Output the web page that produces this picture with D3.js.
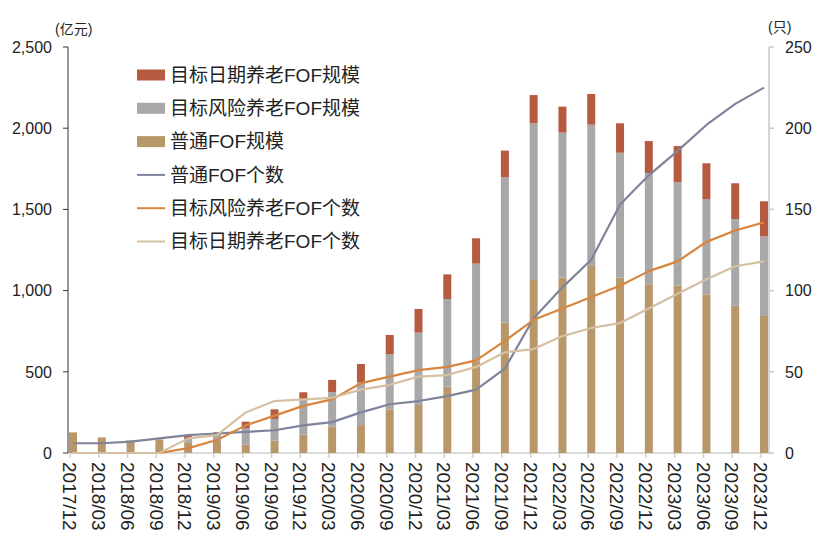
<!DOCTYPE html>
<html><head><meta charset="utf-8">
<script src="https://cdn.jsdelivr.net/npm/d3@7"></script>
<style>body{margin:0;background:#fff}svg{display:block}text{font-family:"Liberation Sans","Noto Sans CJK SC",sans-serif;fill:#222}</style>
</head><body><svg id="c" width="825" height="553"></svg>
<script>
const categories = ["2017/12","2018/03","2018/06","2018/09","2018/12","2019/03","2019/06","2019/09","2019/12","2020/03","2020/06","2020/09","2020/12","2021/03","2021/06","2021/09","2021/12","2022/03","2022/06","2022/09","2022/12","2023/03","2023/06","2023/09","2023/12"];
const ordinaryScale = [127,96,78,82,66,74,51,76,115,162,172,269,296,408,564,802,1065,1080,1156,1080,1039,1030,977,907,844];
const riskScale = [0,0,0,2,20,39,103,134,212,212,263,339,445,540,602,896,965,893,866,769,685,639,587,534,490];
const dateScale = [0,0,0,0,22,14,39,59,47,76,113,119,146,152,156,164,174,160,189,181,197,221,220,220,216];
const ordinaryCount = [6,6,7,9,11,12,13,14,17,19,25,30,32,35,39,52,83,102,119,153,171,186,202,215,225];
const riskCount = [0,0,0,0,3,8,17,23,29,33,43,47,51,53,57,69,82,89,96,103,112,118,130,137,142];
const dateCount = [0,0,0,0,9,11,25,32,33,34,39,42,47,48,53,62,64,72,77,80,89,98,107,115,118];
const leftTicks = [0,500,1000,1500,2000,2500];
const rightTicks = [0,50,100,150,200,250];
const seriesNames = ["目标日期养老FOF规模","目标风险养老FOF规模","普通FOF规模","普通FOF个数","目标风险养老FOF个数","目标日期养老FOF个数"];

const colors = {date:"#B65B3F", risk:"#A8A8A8", ord:"#B8986B", lOrd:"#7F849C", lRisk:"#D8853F", lDate:"#D5C0A2"};

const svg = d3.select("#c");
const x = d3.scalePoint().domain(categories).range([73, 764]);
const yL = d3.scaleLinear().domain([0,2500]).range([453,47]);
const yR = d3.scaleLinear().domain([0,250]).range([453,47]);

// bottom axis
const gx = svg.append("g").attr("transform","translate(0,453)");
gx.append("line").attr("x1",68).attr("x2",770).attr("stroke","#D0D0D0").attr("stroke-width",1.5);
gx.selectAll("line.t").data(categories).join("line").attr("class","t")
  .attr("x1",d=>x(d)-3).attr("x2",d=>x(d)-3).attr("y1",0).attr("y2",5).attr("stroke","#D0D0D0").attr("stroke-width",1.5);
gx.selectAll("text").data(categories).join("text")
  .attr("transform",d=>`translate(${x(d)-3},9) rotate(90)`)
  .attr("dy","0.36em").attr("font-size",19).text(d=>d);

// stacked bars
const rows = categories.map((c,i)=>({c, ord:ordinaryScale[i], risk:riskScale[i], date:dateScale[i]}));
const stack = d3.stack().keys(["ord","risk","date"])(rows);
const bw = 8;
svg.append("g").selectAll("g").data(stack).join("g").attr("fill",d=>colors[d.key])
  .selectAll("rect").data(d=>d).join("rect")
  .attr("x",d=>x(d.data.c)-bw/2).attr("width",bw)
  .attr("y",d=>yL(d[1])).attr("height",d=>Math.max(0,yL(d[0])-yL(d[1])));

// lines
const line = d3.line().x((d,i)=>x(categories[i])).y(d=>yR(d));
[[ordinaryCount,colors.lOrd],[riskCount,colors.lRisk],[dateCount,colors.lDate]].forEach(([arr,col])=>{
  svg.append("path").datum(arr).attr("d",line).attr("fill","none").attr("stroke",col).attr("stroke-width",2.2).attr("stroke-linejoin","round");
});

// left axis
const gl = svg.append("g").attr("transform","translate(68,0)");
gl.append("line").attr("y1",47).attr("y2",453).attr("stroke","#333").attr("stroke-width",1);
gl.selectAll("line.t").data(leftTicks).join("line").attr("class","t").attr("x1",-5).attr("x2",0).attr("y1",d=>yL(d)).attr("y2",d=>yL(d)).attr("stroke","#333");
gl.selectAll("text").data(leftTicks).join("text").attr("x",-16).attr("y",d=>yL(d)).attr("dy","0.36em")
  .attr("text-anchor","end").attr("font-size",16).text(d=>d3.format(",")(d));
svg.append("text").attr("x",55).attr("y",34).attr("font-size",14).attr("font-family","Noto Sans CJK SC").text("(亿元)");

// right axis
const gr = svg.append("g").attr("transform","translate(769,0)");
gr.append("line").attr("y1",47).attr("y2",453).attr("stroke","#C8C8C8").attr("stroke-width",1.5);
gr.selectAll("line.t").data(rightTicks).join("line").attr("class","t").attr("x1",0).attr("x2",5).attr("y1",d=>yR(d)).attr("y2",d=>yR(d)).attr("stroke","#C8C8C8").attr("stroke-width",1.5);
gr.selectAll("text").data(rightTicks).join("text").attr("x",16).attr("y",d=>yR(d)).attr("dy","0.36em")
  .attr("font-size",16).text(d=>d);
svg.append("text").attr("x",768).attr("y",32).attr("font-size",14).attr("font-family","Noto Sans CJK SC").text("(只)");

// legend
const lg = svg.append("g");
const legendColors = [colors.date,colors.risk,colors.ord,colors.lOrd,colors.lRisk,colors.lDate];
seriesNames.forEach((n,i)=>{
  const cy = 75 + i*33.3;
  if(i<3) lg.append("rect").attr("x",137).attr("y",cy-5.5).attr("width",28).attr("height",11).attr("fill",legendColors[i]);
  else lg.append("line").attr("x1",137).attr("x2",165).attr("y1",cy).attr("y2",cy).attr("stroke",legendColors[i]).attr("stroke-width",2);
  lg.append("text").attr("x",170).attr("y",cy).attr("dy","0.36em").attr("font-size",19).text(n);
});
</script></body></html>
